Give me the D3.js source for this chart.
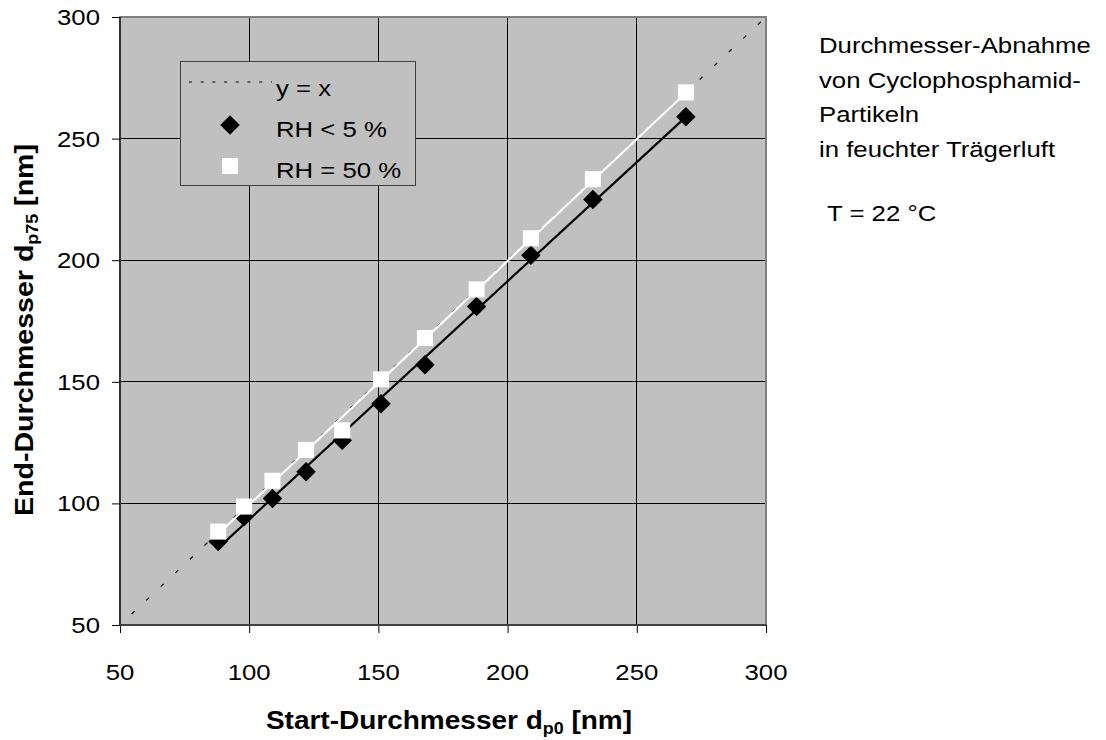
<!DOCTYPE html>
<html>
<head>
<meta charset="utf-8">
<script src="https://cdn.jsdelivr.net/npm/d3@7"></script>
<style>
  html, body { margin: 0; padding: 0; background: #fff; }
  text { font-family: "Liberation Sans", Arial, sans-serif; fill: #000; }
</style>
</head>
<body>
<svg id="chart" width="1106" height="740"></svg>
<script>
// ---- data ----
const xTicks = [50, 100, 150, 200, 250, 300];
const yTicks = [50, 100, 150, 200, 250, 300];
const startDiam = [88, 98, 109, 122, 136, 151, 168, 188, 209, 233, 269];
const endDry = [84.3, 94.5, 102, 113, 126, 141, 157, 181, 202, 225, 259];
const endHumid = [88.4, 98.7, 109.3, 122, 130, 151, 168, 188, 209, 233.3, 269];
const legendLabels = ["y = x", "RH < 5 %", "RH = 50 %"];
const noteLines = ["Durchmesser-Abnahme", "von Cyclophosphamid-", "Partikeln", "in feuchter Trägerluft"];
const noteTemp = "T = 22 °C";

const svg = d3.select("#chart");
const SX = 1.12;
const x = d3.scaleLinear().domain([50, 300]).range([120, 766]);
const y = d3.scaleLinear().domain([50, 300]).range([625, 17]);

function stretched(sel, px, py) {
  return sel.attr("transform", `translate(${px},${py}) scale(${SX},1)`);
}

// plot background
svg.append("rect").attr("x", x(50)).attr("y", y(300))
  .attr("width", x(300) - x(50)).attr("height", y(50) - y(300))
  .attr("fill", "#c0c0c0");

// gridlines
const g = svg.append("g");
g.selectAll(".vg").data(xTicks.slice(1, -1)).enter().append("line")
  .attr("x1", d => x(d)).attr("x2", d => x(d))
  .attr("y1", y(300)).attr("y2", y(50))
  .attr("stroke", "#000").attr("stroke-width", 1).attr("shape-rendering", "crispEdges");
g.selectAll(".hg").data(yTicks.slice(1, -1)).enter().append("line")
  .attr("x1", x(50)).attr("x2", x(300))
  .attr("y1", d => y(d)).attr("y2", d => y(d))
  .attr("stroke", "#000").attr("stroke-width", 1).attr("shape-rendering", "crispEdges");

// plot border
svg.append("rect").attr("x", x(50)).attr("y", y(300))
  .attr("width", x(300) - x(50)).attr("height", y(50) - y(300))
  .attr("fill", "none").attr("stroke", "#808080").attr("stroke-width", 2);

// axes
const xAxis = d3.axisBottom(x).tickValues(xTicks).tickSize(8).tickFormat("");
const yAxis = d3.axisLeft(y).tickValues(yTicks).tickSize(8).tickFormat("");
const gx = svg.append("g").attr("transform", `translate(0,${y(50)})`).call(xAxis);
const gy = svg.append("g").attr("transform", `translate(${x(50)},0)`).call(yAxis);
[gx, gy].forEach(a => {
  a.select(".domain").attr("stroke", "#000").attr("stroke-width", 1.2).attr("d", null);
  a.selectAll(".tick line").attr("stroke", "#000").attr("stroke-width", 1);
});
svg.append("line").attr("x1", x(50)).attr("x2", x(50)).attr("y1", y(300)).attr("y2", y(50))
  .attr("stroke", "#000").attr("stroke-width", 1.2);
svg.append("line").attr("x1", x(50)).attr("x2", x(300)).attr("y1", y(50)).attr("y2", y(50))
  .attr("stroke", "#404040").attr("stroke-width", 2);

// tick labels
xTicks.forEach(t => {
  stretched(svg.append("text"), x(t), 680).attr("text-anchor", "middle")
    .attr("font-size", 23).text(t);
});
yTicks.forEach(t => {
  stretched(svg.append("text"), 100, y(t) + 8).attr("text-anchor", "end")
    .attr("font-size", 23).text(t);
});

// axis titles
const xt = stretched(svg.append("text"), 449, 729).attr("text-anchor", "middle")
  .attr("font-size", 25).attr("font-weight", "bold");
xt.append("tspan").text("Start-Durchmesser d");
xt.append("tspan").attr("font-size", 16).attr("dy", 5).text("p0");
xt.append("tspan").attr("dy", -5).text(" [nm]");

const yt = svg.append("text").attr("transform", `translate(33,330) rotate(-90) scale(${SX},1)`)
  .attr("text-anchor", "middle").attr("font-size", 25.5).attr("font-weight", "bold");
yt.append("tspan").text("End-Durchmesser d");
yt.append("tspan").attr("font-size", 16).attr("dy", 5).text("p75");
yt.append("tspan").attr("dy", -5).text(" [nm]");

// y = x reference line
svg.append("line")
  .attr("x1", x(50)).attr("y1", y(50)).attr("x2", x(300)).attr("y2", y(300))
  .attr("stroke", "#000").attr("stroke-width", 1.2).attr("stroke-dasharray", "4,16")
  .attr("stroke-dashoffset", -16);

// linear fits
function fit(xs, ys) {
  const mx = d3.mean(xs), my = d3.mean(ys);
  let sxy = 0, sxx = 0;
  xs.forEach((v, i) => { sxy += (v - mx) * (ys[i] - my); sxx += (v - mx) * (v - mx); });
  const b = sxy / sxx, a = my - b * mx;
  const x0 = d3.min(xs), x1 = d3.max(xs);
  return [[x0, a + b * x0], [x1, a + b * x1]];
}
const lineGen = d3.line().x(d => x(d[0])).y(d => y(d[1]));

const dryFit = fit(startDiam, endDry);
const humidFit = fit(startDiam, endHumid);

// diamonds
const diamond = d3.symbol().type(d3.symbolSquare).size(190);
svg.append("g").selectAll("path").data(startDiam).enter().append("path")
  .attr("d", diamond)
  .attr("transform", (d, i) => `translate(${x(d)},${y(endDry[i])}) rotate(45)`)
  .attr("fill", "#000");
svg.append("path").datum(dryFit).attr("d", lineGen)
  .attr("stroke", "#000").attr("stroke-width", 2.2).attr("fill", "none");

// squares
svg.append("g").selectAll("rect").data(startDiam).enter().append("rect")
  .attr("x", d => x(d) - 8).attr("y", (d, i) => y(endHumid[i]) - 8)
  .attr("width", 16).attr("height", 16).attr("fill", "#fff");
svg.append("path").datum(humidFit).attr("d", lineGen)
  .attr("stroke", "#fff").attr("stroke-width", 2.2).attr("fill", "none");

// legend
const lg = svg.append("g");
lg.append("rect").attr("x", 180.5).attr("y", 61.5).attr("width", 235).attr("height", 124)
  .attr("fill", "#c0c0c0").attr("stroke", "#404040").attr("stroke-width", 1);
lg.append("line").attr("x1", 189).attr("x2", 272).attr("y1", 82).attr("y2", 82)
  .attr("stroke", "#000").attr("stroke-width", 1).attr("stroke-dasharray", "3,8.7");
lg.append("path").attr("d", diamond).attr("transform", "translate(230,125) rotate(45)").attr("fill", "#000");
lg.append("rect").attr("x", 222).attr("y", 158).attr("width", 16).attr("height", 16).attr("fill", "#fff");
[96, 137, 178].forEach((yy, i) => {
  stretched(lg.append("text"), 276, yy).attr("font-size", 23).text(legendLabels[i]);
});

// side note
noteLines.forEach((t, i) => {
  stretched(svg.append("text"), 819, 53 + i * 34.5).attr("font-size", 23).text(t);
});
stretched(svg.append("text"), 827, 221).attr("font-size", 23).text(noteTemp);
</script>
</body>
</html>
